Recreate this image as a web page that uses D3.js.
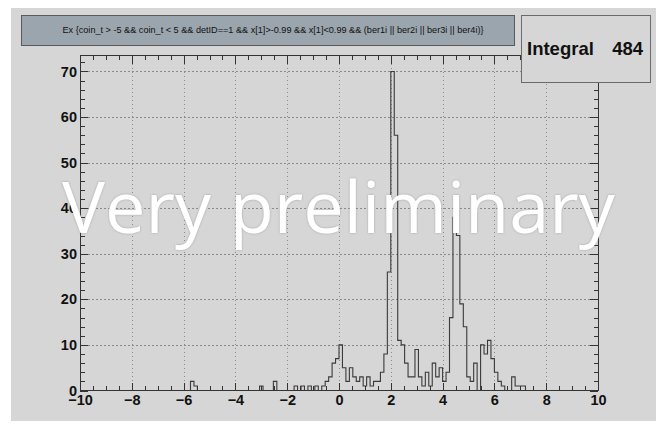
<!DOCTYPE html>
<html>
<head>
<meta charset="utf-8">
<script src="https://cdn.jsdelivr.net/npm/d3@7"></script>
<style>
  html, body { margin: 0; padding: 0; background: #ffffff; }
  svg { display: block; }
</style>
</head>
<body>
<svg id="chart" width="656" height="428"></svg>
<script>
// Histogram definition: 150 equal bins over [-10, 10]
const histRange = [-10, 10];
const binCount = 150;
const counts = [
  0, 0, 0, 0, 0, 0, 0, 0, 0, 0, 0, 0, 0, 0, 0,
  0, 0, 0, 0, 0, 0, 0, 0, 0, 0, 0, 0, 0, 0, 0,
  0, 0, 2, 1, 0, 0, 0, 0, 0, 0, 0, 0, 0, 0, 0,
  0, 0, 0, 0, 0, 0, 0, 1, 0, 0, 0, 2, 0, 0, 0,
  0, 0, 1, 0, 1, 0, 1, 0, 1, 0, 1, 2, 3, 6, 7,
  10, 5, 2, 5, 3, 2, 3, 1, 3, 1, 2, 2, 4, 8, 26,
  70, 56, 11, 10, 6, 3, 3, 9, 3, 1, 4, 1, 6, 3, 5,
  2, 4, 16, 38, 34, 19, 14, 3, 2, 6, 0, 10, 8, 11, 7,
  4, 2, 1, 0, 0, 3, 1, 1, 1, 0, 0, 0, 0, 0, 0,
  0, 0, 0, 0, 0, 0, 0, 0, 0, 0, 0, 0, 0, 0, 0
];

const xTickValues = [-10, -8, -6, -4, -2, 0, 2, 4, 6, 8, 10];
const yTickValues = [0, 10, 20, 30, 40, 50, 60, 70];

const titleText = "Ex {coin_t > -5 && coin_t < 5 && detID==1 && x[1]>-0.99 && x[1]<0.99 && (ber1i || ber2i || ber3i || ber4i)}";
const statLabel = "Integral";
const watermarkText = "Very preliminary";

// ---------------------------------------------------------------------------
const svg = d3.select("#chart");
const canvasFill = "#d6d6d6";
const ink = "#333333";

const frame = { left: 80, right: 598, top: 55.5, bottom: 390.5 };
const binWidth = (histRange[1] - histRange[0]) / binCount;
const yTop = d3.max(counts) * 1.05;

const x = d3.scaleLinear().domain(histRange).range([frame.left, frame.right]);
const y = d3.scaleLinear().domain([0, yTop]).range([frame.bottom, frame.top]);

// canvas
svg.append("rect")
  .attr("x", 11).attr("y", 8).attr("width", 645).attr("height", 413)
  .attr("fill", canvasFill);

// grid
const grid = svg.append("g")
  .attr("stroke", "#8a8a8a").attr("stroke-width", 1)
  .attr("stroke-dasharray", "1.5,2.5").attr("shape-rendering", "crispEdges");
grid.selectAll("line.gx")
  .data(xTickValues.filter(v => v > histRange[0] && v < histRange[1]))
  .join("line").attr("class", "gx")
  .attr("x1", d => Math.round(x(d)) + 0.5).attr("x2", d => Math.round(x(d)) + 0.5)
  .attr("y1", frame.top).attr("y2", frame.bottom);
grid.selectAll("line.gy")
  .data(yTickValues.filter(v => v > 0))
  .join("line").attr("class", "gy")
  .attr("y1", d => Math.round(y(d)) + 0.5).attr("y2", d => Math.round(y(d)) + 0.5)
  .attr("x1", frame.left).attr("x2", frame.right);

// histogram outline
const pts = [{ e: histRange[0], c: 0 }];
counts.forEach((c, i) => pts.push({ e: histRange[0] + i * binWidth, c }));
pts.push({ e: histRange[1], c: counts[counts.length - 1] });
pts.push({ e: histRange[1], c: 0 });
const stepLine = d3.line()
  .x(d => x(d.e))
  .y(d => y(d.c))
  .curve(d3.curveStepAfter);
svg.append("path")
  .datum(pts)
  .attr("d", stepLine)
  .attr("fill", "none")
  .attr("stroke", "#3a3a3a")
  .attr("stroke-width", 1.1);

// axes: major and minor ticks pointing into the frame on all four sides
const majorLen = 8, minorLen = 4.5;
const xMinor = d3.range(histRange[0], histRange[1] + 1e-9, 0.5).filter(v => Math.abs(v % 2) > 1e-6);
const yMinor = d3.range(0, yTop, 2).filter(v => v % 10 !== 0);
const fmt = d3.format("d");

function styleAxis(g) {
  g.select(".domain").remove();
  g.selectAll(".tick line").attr("stroke", ink).attr("shape-rendering", "crispEdges");
  g.selectAll("text")
    .attr("fill", "#111")
    .attr("font-family", "'Liberation Sans', Arial, sans-serif")
    .attr("font-weight", "bold")
    .attr("font-size", 14.5);
}

const bottomAxis = svg.append("g").attr("transform", `translate(0,${frame.bottom})`)
  .call(d3.axisBottom(x).tickValues(xTickValues).tickSize(-majorLen).tickFormat(fmt));
styleAxis(bottomAxis);
bottomAxis.selectAll("text").attr("y", 14.5).attr("dy", 0);
svg.append("g").attr("transform", `translate(0,${frame.bottom})`)
  .call(d3.axisBottom(x).tickValues(xMinor).tickSize(-minorLen).tickFormat(""))
  .call(styleAxis);

svg.append("g").attr("transform", `translate(0,${frame.top})`)
  .call(d3.axisTop(x).tickValues(xTickValues).tickSize(-majorLen).tickFormat(""))
  .call(styleAxis);
svg.append("g").attr("transform", `translate(0,${frame.top})`)
  .call(d3.axisTop(x).tickValues(xMinor).tickSize(-minorLen).tickFormat(""))
  .call(styleAxis);

const leftAxis = svg.append("g").attr("transform", `translate(${frame.left},0)`)
  .call(d3.axisLeft(y).tickValues(yTickValues).tickSize(-majorLen).tickPadding(3).tickFormat(fmt));
styleAxis(leftAxis);
svg.append("g").attr("transform", `translate(${frame.left},0)`)
  .call(d3.axisLeft(y).tickValues(yMinor).tickSize(-minorLen).tickFormat(""))
  .call(styleAxis);

svg.append("g").attr("transform", `translate(${frame.right},0)`)
  .call(d3.axisRight(y).tickValues(yTickValues).tickSize(-majorLen).tickFormat(""))
  .call(styleAxis);
svg.append("g").attr("transform", `translate(${frame.right},0)`)
  .call(d3.axisRight(y).tickValues(yMinor).tickSize(-minorLen).tickFormat(""))
  .call(styleAxis);

// frame border
svg.append("rect")
  .attr("x", frame.left + 0.5).attr("y", frame.top)
  .attr("width", frame.right - frame.left).attr("height", frame.bottom - frame.top)
  .attr("fill", "none").attr("stroke", ink).attr("stroke-width", 1)
  .attr("shape-rendering", "crispEdges");

// watermark
const defs = svg.append("defs");
const glow = defs.append("filter").attr("id", "wmShadow")
  .attr("x", "-5%").attr("y", "-20%").attr("width", "110%").attr("height", "140%");
glow.append("feDropShadow").attr("dx", 0).attr("dy", 0).attr("stdDeviation", 1)
  .attr("flood-color", "#7a7a7a").attr("flood-opacity", 0.55);
const wm = svg.append("text")
  .attr("x", 62).attr("y", 233)
  .attr("font-family", "'Open Sans', 'Noto Sans', sans-serif")
  .attr("font-size", 76)
  .attr("fill", "#ffffff")
  .attr("filter", "url(#wmShadow)")
  .text(watermarkText);
const wmLen = wm.node().getComputedTextLength();
wm.attr("font-size", 76 * 553 / wmLen);

// title box
svg.append("rect")
  .attr("x", 21.5).attr("y", 15.5).attr("width", 493).attr("height", 30)
  .attr("fill", "#9ba5ad").attr("stroke", "#5a5a5a").attr("stroke-width", 1);
const title = svg.append("text")
  .attr("x", 273).attr("y", 32.5)
  .attr("text-anchor", "middle")
  .attr("font-family", "'Liberation Sans', Arial, sans-serif")
  .attr("font-size", 9)
  .attr("fill", "#111")
  .text(titleText);
const tLen = title.node().getComputedTextLength();
title.attr("font-size", 9 * 422 / tLen);

// statistics box
svg.append("rect")
  .attr("x", 521.5).attr("y", 15.5).attr("width", 129).attr("height", 67)
  .attr("fill", canvasFill).attr("stroke", "#6a6a6a").attr("stroke-width", 1);
svg.append("text")
  .attr("x", 527).attr("y", 54.5)
  .attr("font-family", "'Liberation Sans', Arial, sans-serif")
  .attr("font-weight", "bold").attr("font-size", 18.5).attr("fill", "#111")
  .text(statLabel);
svg.append("text")
  .attr("x", 643).attr("y", 54.5)
  .attr("text-anchor", "end")
  .attr("font-family", "'Liberation Sans', Arial, sans-serif")
  .attr("font-weight", "bold").attr("font-size", 18.5).attr("fill", "#111")
  .text(d3.format("d")(d3.sum(counts)));
</script>
</body>
</html>
